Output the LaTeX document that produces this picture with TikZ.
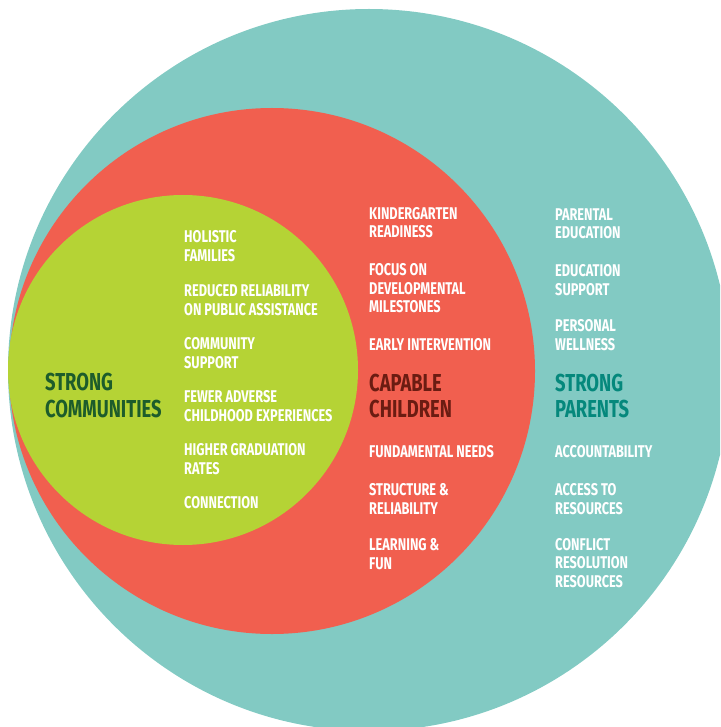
\documentclass[tikz,border=0pt]{standalone}
\usepackage{fontspec}
\newfontfamily\cf[FakeStretch=0.75]{Fira Sans}
\definecolor{tealbg}{HTML}{82CAC3}
\definecolor{redbg}{HTML}{F15F4F}
\definecolor{greenbg}{HTML}{B5D335}
\definecolor{greenhd}{HTML}{1D5C2B}
\definecolor{redhd}{HTML}{6B1C12}
\definecolor{tealhd}{HTML}{05887C}
\begin{document}
\begin{tikzpicture}[x=1pt,y=-1pt,
  item/.style={anchor=base west, align=left, inner sep=0pt, text=white,
    font=\cf\bfseries\fontsize{17}{18.6}\selectfont},
  head/.style={anchor=base west, align=left, inner sep=0pt,
    font=\cf\bfseries\fontsize{24.5}{26.7}\selectfont}]
\useasboundingbox (0,0) rectangle (720,727);
\clip (0,0) rectangle (720,727);
\fill[tealbg] (369,370) circle[radius=361];
\fill[redbg] (272,371) circle[radius=263];
\fill[greenbg] (183,370) circle[radius=175];
% green (positions are baselines of the last line)
\node[head,text=greenhd] (sc) at (45,417.5) {STRONG\\COMMUNITIES};
\node[item] (g1) at (184,261) {HOLISTIC\\FAMILIES};
\node[item] (g2) at (184,315) {REDUCED RELIABILITY\\ON PUBLIC ASSISTANCE};
\node[item] (g3) at (184,368) {COMMUNITY\\SUPPORT};
\node[item] (g4) at (184,421.5) {FEWER ADVERSE\\CHILDHOOD EXPERIENCES};
\node[item] (g5) at (184,474) {HIGHER GRADUATION\\RATES};
\node[item] (g6) at (184,508) {CONNECTION};
% red
\node[head,text=redhd] (cc) at (369,417.7) {CAPABLE\\CHILDREN};
\node[item] (r1) at (369,237.7) {KINDERGARTEN\\READINESS};
\node[item] (r2) at (369,312.7) {FOCUS ON\\DEVELOPMENTAL\\MILESTONES};
\node[item] (r3) at (369,350) {EARLY INTERVENTION};
\node[item] (r4) at (369,457) {FUNDAMENTAL NEEDS};
\node[item] (r5) at (369,514) {STRUCTURE \&\\RELIABILITY};
\node[item] (r6) at (369,569.5) {LEARNING \&\\FUN};
% teal
\node[head,text=tealhd] (sp) at (555,417.7) {STRONG\\PARENTS};
\node[item] (t1) at (555,238.7) {PARENTAL\\EDUCATION};
\node[item] (t2) at (555,295) {EDUCATION\\SUPPORT};
\node[item] (t3) at (555,350) {PERSONAL\\WELLNESS};
\node[item] (t4) at (555,457) {ACCOUNTABILITY};
\node[item] (t5) at (555,514) {ACCESS TO\\RESOURCES};
\node[item] (t6) at (555,587.5) {CONFLICT\\RESOLUTION\\RESOURCES};
\end{tikzpicture}
\end{document}
